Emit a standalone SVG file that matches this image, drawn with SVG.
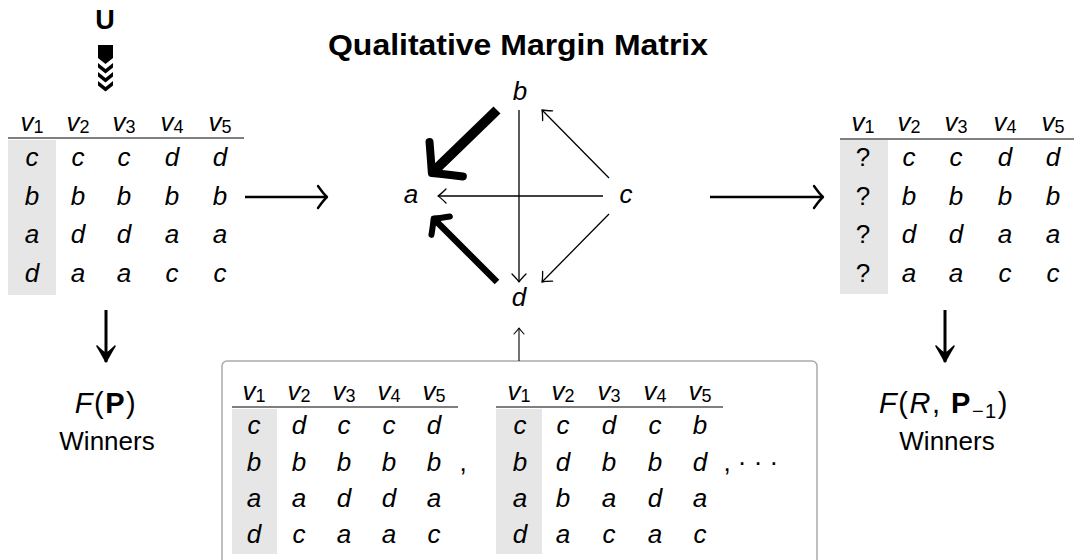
<svg xmlns="http://www.w3.org/2000/svg" width="1074" height="560" viewBox="0 0 1074 560">
<style>
text{font-family:"Liberation Sans",Arial,sans-serif;fill:#000}
.m{font-style:italic;font-size:26px;text-anchor:middle}
.sub{font-style:normal;font-size:18px}
.up{font-style:normal;font-size:26px;text-anchor:middle}
.fx{font-style:normal;font-size:29px;text-anchor:middle;letter-spacing:1.5px}
.gray{fill:#e6e6e6}
.rule{stroke:#555;stroke-width:1.6}
.ln{fill:none;stroke:#000}
.hd{fill:none;stroke:#000;stroke-linecap:round;stroke-linejoin:round}
</style>
<defs>
<marker id="hMed" markerUnits="userSpaceOnUse" orient="auto" overflow="visible" refX="0" refY="0" markerWidth="20" markerHeight="30" viewBox="-15 -15 20 30">
<path class="hd" stroke-width="2.4" d="M-9,-11 Q-3.2,-2.8 0,0 Q-3.2,2.8 -9,11"/>
</marker>
<marker id="hThin" markerUnits="userSpaceOnUse" orient="auto" overflow="visible" refX="0" refY="0" markerWidth="20" markerHeight="20" viewBox="-10 -10 20 20">
<path class="hd" stroke-width="1.3" d="M-8,-7 Q-2.8,-1.8 0,0 Q-2.8,1.8 -8,7"/>
</marker>
<marker id="hUp" markerUnits="userSpaceOnUse" orient="auto" overflow="visible" refX="0" refY="0" markerWidth="20" markerHeight="20" viewBox="-10 -10 20 20">
<path class="hd" stroke-width="1.1" d="M-6,-5 Q-2,-1.3 0,0 Q-2,1.3 -6,5"/>
</marker>
<marker id="hDown" markerUnits="userSpaceOnUse" orient="auto" overflow="visible" refX="0" refY="0" markerWidth="30" markerHeight="30" viewBox="-20 -15 30 30">
<path fill="#000" stroke="#000" stroke-width="1.5" stroke-linejoin="round" d="M-16,-9 Q-6,-3 0,0 Q-6,3 -16,9 Q-9,2 -9,0 Q-9,-2 -16,-9 Z"/>
</marker>
<marker id="hThick1" markerUnits="userSpaceOnUse" orient="auto" overflow="visible" refX="-3" refY="0" markerWidth="40" markerHeight="60" viewBox="-30 -30 40 60">
<path class="hd" stroke-width="8" d="M-20,-24 Q-6,-7 0,0 Q-6,7 -20,24"/>
</marker>
<marker id="hThick2" markerUnits="userSpaceOnUse" orient="auto" overflow="visible" refX="-2" refY="0" markerWidth="30" markerHeight="40" viewBox="-20 -20 30 40">
<path class="hd" stroke-width="6" d="M-10,-13 Q-3.5,-4 0,0 Q-3.5,4 -10,13"/>
</marker>
</defs>

<rect width="1074" height="560" fill="#fff"/>

<g id="title">
<text x="518" y="55" font-size="30" font-weight="bold" text-anchor="middle" textLength="380" lengthAdjust="spacingAndGlyphs">Qualitative Margin Matrix</text>
</g>

<g id="input-U">
<text x="105" y="29" font-size="27" font-weight="bold" text-anchor="middle">U</text>
</g>

<g id="profile-P">
<rect class="gray" x="8" y="140" width="48" height="155"/>
<line class="rule" x1="8" y1="138" x2="244" y2="138"/>
<text class="m" x="32" y="131">v<tspan class="sub" dy="2">1</tspan></text>
<text class="m" x="78" y="131">v<tspan class="sub" dy="2">2</tspan></text>
<text class="m" x="124" y="131">v<tspan class="sub" dy="2">3</tspan></text>
<text class="m" x="172" y="131">v<tspan class="sub" dy="2">4</tspan></text>
<text class="m" x="220" y="131">v<tspan class="sub" dy="2">5</tspan></text>
<text class="m" x="32" y="166">c</text><text class="m" x="78" y="166">c</text><text class="m" x="124" y="166">c</text><text class="m" x="172" y="166">d</text><text class="m" x="220" y="166">d</text>
<text class="m" x="32" y="205">b</text><text class="m" x="78" y="205">b</text><text class="m" x="124" y="205">b</text><text class="m" x="172" y="205">b</text><text class="m" x="220" y="205">b</text>
<text class="m" x="32" y="243">a</text><text class="m" x="78" y="243">d</text><text class="m" x="124" y="243">d</text><text class="m" x="172" y="243">a</text><text class="m" x="220" y="243">a</text>
<text class="m" x="32" y="282">d</text><text class="m" x="78" y="282">a</text><text class="m" x="124" y="282">a</text><text class="m" x="172" y="282">c</text><text class="m" x="220" y="282">c</text>
</g>

<g id="winners-left">
<text class="fx" x="106" y="413"><tspan font-style="italic">F</tspan>(<tspan font-weight="bold">P</tspan>)</text>
<text class="up" x="107" y="450">Winners</text>
</g>

<g id="node-a"><text class="m" x="411" y="203">a</text></g>
<g id="node-b"><text class="m" x="520" y="100">b</text></g>
<g id="node-c"><text class="m" x="626" y="203">c</text></g>
<g id="node-d"><text class="m" x="519" y="306">d</text></g>

<g id="profile-R">
<rect class="gray" x="840" y="140" width="48" height="154"/>
<line class="rule" x1="840" y1="139" x2="1074" y2="139"/>
<text class="m" x="863" y="131">v<tspan class="sub" dy="2">1</tspan></text>
<text class="m" x="909" y="131">v<tspan class="sub" dy="2">2</tspan></text>
<text class="m" x="956" y="131">v<tspan class="sub" dy="2">3</tspan></text>
<text class="m" x="1005" y="131">v<tspan class="sub" dy="2">4</tspan></text>
<text class="m" x="1053" y="131">v<tspan class="sub" dy="2">5</tspan></text>
<text class="up" x="863" y="166">?</text><text class="m" x="909" y="166">c</text><text class="m" x="956" y="166">c</text><text class="m" x="1005" y="166">d</text><text class="m" x="1053" y="166">d</text>
<text class="up" x="863" y="205">?</text><text class="m" x="909" y="205">b</text><text class="m" x="956" y="205">b</text><text class="m" x="1005" y="205">b</text><text class="m" x="1053" y="205">b</text>
<text class="up" x="863" y="243">?</text><text class="m" x="909" y="243">d</text><text class="m" x="956" y="243">d</text><text class="m" x="1005" y="243">a</text><text class="m" x="1053" y="243">a</text>
<text class="up" x="863" y="282">?</text><text class="m" x="909" y="282">a</text><text class="m" x="956" y="282">a</text><text class="m" x="1005" y="282">c</text><text class="m" x="1053" y="282">c</text>
</g>

<g id="winners-right">
<text class="fx" x="944" y="413"><tspan font-style="italic">F</tspan>(<tspan font-style="italic">R</tspan>, <tspan font-weight="bold">P</tspan><tspan font-size="20" dy="5">−1</tspan><tspan dy="-5">)</tspan></text>
<text class="up" x="947" y="450">Winners</text>
</g>

<g id="profiles-box">
<rect x="222" y="361" width="595" height="230" rx="5" fill="#fff" stroke="#aaa" stroke-width="1.5"/>
<rect class="gray" x="232" y="409" width="45" height="145"/>
<line class="rule" x1="232" y1="407" x2="458" y2="407"/>
<text class="m" x="254" y="400">v<tspan class="sub" dy="2">1</tspan></text>
<text class="m" x="299" y="400">v<tspan class="sub" dy="2">2</tspan></text>
<text class="m" x="344" y="400">v<tspan class="sub" dy="2">3</tspan></text>
<text class="m" x="389" y="400">v<tspan class="sub" dy="2">4</tspan></text>
<text class="m" x="434" y="400">v<tspan class="sub" dy="2">5</tspan></text>
<text class="m" x="254" y="434">c</text><text class="m" x="299" y="434">d</text><text class="m" x="344" y="434">c</text><text class="m" x="389" y="434">c</text><text class="m" x="434" y="434">d</text>
<text class="m" x="254" y="471">b</text><text class="m" x="299" y="471">b</text><text class="m" x="344" y="471">b</text><text class="m" x="389" y="471">b</text><text class="m" x="434" y="471">b</text>
<text class="m" x="254" y="507">a</text><text class="m" x="299" y="507">a</text><text class="m" x="344" y="507">d</text><text class="m" x="389" y="507">d</text><text class="m" x="434" y="507">a</text>
<text class="m" x="254" y="543">d</text><text class="m" x="299" y="543">c</text><text class="m" x="344" y="543">a</text><text class="m" x="389" y="543">a</text><text class="m" x="434" y="543">c</text>
<text class="up" x="463" y="471">,</text>

<rect class="gray" x="496" y="409" width="46" height="145"/>
<line class="rule" x1="496" y1="407" x2="723" y2="407"/>
<text class="m" x="519" y="400">v<tspan class="sub" dy="2">1</tspan></text>
<text class="m" x="563" y="400">v<tspan class="sub" dy="2">2</tspan></text>
<text class="m" x="609" y="400">v<tspan class="sub" dy="2">3</tspan></text>
<text class="m" x="655" y="400">v<tspan class="sub" dy="2">4</tspan></text>
<text class="m" x="700" y="400">v<tspan class="sub" dy="2">5</tspan></text>
<text class="m" x="520" y="434">c</text><text class="m" x="563" y="434">c</text><text class="m" x="609" y="434">d</text><text class="m" x="655" y="434">c</text><text class="m" x="700" y="434">b</text>
<text class="m" x="520" y="471">b</text><text class="m" x="563" y="471">d</text><text class="m" x="609" y="471">b</text><text class="m" x="655" y="471">b</text><text class="m" x="700" y="471">d</text>
<text class="m" x="520" y="507">a</text><text class="m" x="563" y="507">b</text><text class="m" x="609" y="507">a</text><text class="m" x="655" y="507">d</text><text class="m" x="700" y="507">a</text>
<text class="m" x="520" y="543">d</text><text class="m" x="563" y="543">a</text><text class="m" x="609" y="543">c</text><text class="m" x="655" y="543">a</text><text class="m" x="700" y="543">c</text>
<text class="up" x="727" y="471">,</text>
<text class="up" x="758" y="471">· · ·</text>
</g>

<g id="connectors">
<path fill="#000" d="M98,45 H113 V58 L105.5,64 L98,58 Z"/>
<path fill="#000" d="M98,63 L105.5,69 L113,63 V67.5 L105.5,73.5 L98,67.5 Z"/>
<path fill="#000" d="M98,72 L105.5,78 L113,72 V76.5 L105.5,82.5 L98,76.5 Z"/>
<path fill="#000" d="M98,81 L105.5,87 L113,81 V85.5 L105.5,91.5 L98,85.5 Z"/>

<line class="ln" stroke-width="2.6" x1="245" y1="197" x2="327" y2="197" marker-end="url(#hMed)"/>
<line class="ln" stroke-width="2.6" x1="710" y1="197" x2="823" y2="197" marker-end="url(#hMed)"/>
<line class="ln" stroke-width="3" x1="106" y1="310" x2="106" y2="362" marker-end="url(#hDown)"/>
<line class="ln" stroke-width="3" x1="945" y1="310" x2="945" y2="362" marker-end="url(#hDown)"/>

<line class="ln" stroke-width="1.3" x1="519" y1="110" x2="519" y2="282" marker-end="url(#hThin)"/>
<line class="ln" stroke-width="1.3" x1="603" y1="196" x2="438" y2="196" marker-end="url(#hThin)"/>
<line class="ln" stroke-width="1.3" x1="609" y1="178" x2="542" y2="110" marker-end="url(#hThin)"/>
<line class="ln" stroke-width="1.3" x1="609" y1="214" x2="542" y2="282" marker-end="url(#hThin)"/>
<line class="ln" stroke-width="10" x1="497" y1="110" x2="434" y2="171" marker-end="url(#hThick1)"/>
<line class="ln" stroke-width="6.5" x1="497" y1="282" x2="435" y2="220" marker-end="url(#hThick2)"/>

<line class="ln" stroke-width="1.1" x1="519" y1="361" x2="519" y2="328" marker-end="url(#hUp)"/>
</g>
</svg>
